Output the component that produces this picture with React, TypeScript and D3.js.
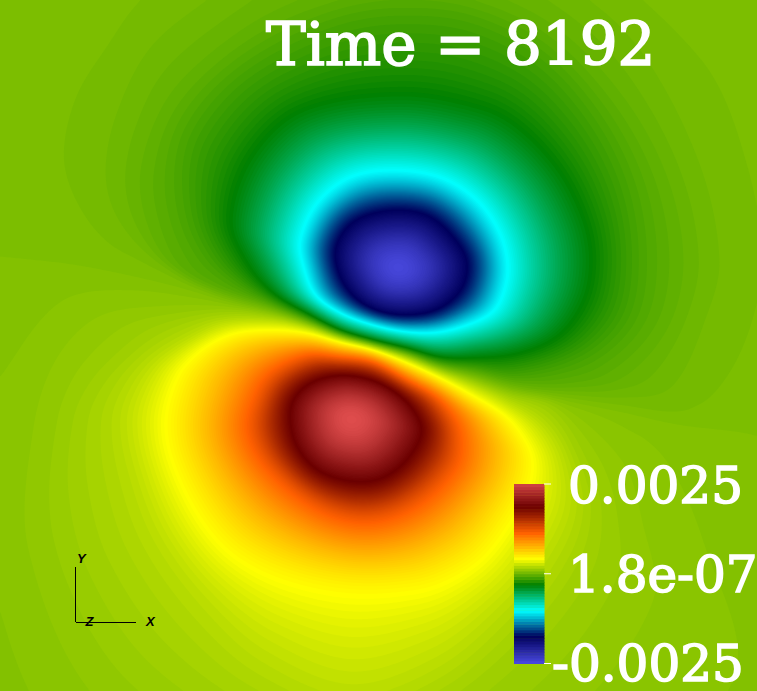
import React, { useMemo } from "react";
import * as d3 from "d3";

const WIDTH = 757;
const HEIGHT = 691;

const titleText = "Time = 8192";
const tickLabels = ["0.0025", "1.8e-07", "-0.0025"];
const tickPositions = [1, 0.5, 0];

// Rainbow-desaturated colour table
const colorStops = [0, 0.143, 0.285, 0.429, 0.571, 0.714, 0.857, 1];
const colorValues = ["#4747db", "#00005c", "#00ffff", "#008000", "#ffff00", "#ff6100", "#6b0000", "#e04d4d"];

// Field: extremum of each lobe, then iso-lines of the normalised value.
const negCenter = [398, 268];
const negLevels = [0.143, 0.286, 0.429, 0.47, 0.484, 0.492, 0.496, 0.5];
const negNavy = [[467,260],[463,287],[443,307],[417,315],[383,313],[357,300],[340,277],[335,250],[347,227],[367,215],[397,210],[427,215],[450,233]];
const negCyan = [[508,267],[503,295],[493,312],[473,323],[440,332],[407,332],[373,325],[340,313],[315,295],[303,265],[300,240],[317,203],[350,177],[393,170],[440,177],[477,200],[500,233]];
const negGreen = [[592,260],[585,300],[560,335],[520,353],[473,358],[440,357],[407,348],[373,340],[340,330],[307,313],[273,293],[247,263],[230,220],[250,157],[300,110],[400,93],[483,107],[520,127],[560,170],[585,220]];
const neg470 = [[641,260],[630,320],[587,360],[520,377],[473,369],[440,363.5],[407,352],[373,343],[340,333.5],[307,319],[273,304],[235,285],[205,260],[185,220],[180,170],[190,130],[225,85],[275,50],[340,22],[398,13],[470,20],[540,55],[595,115],[630,185]];
const neg484 = [[682,260],[667,327],[620,378],[570,388],[520,385],[473,373.6],[440,366],[407,353.4],[373,344],[340,334.6],[307,321],[273,308],[210,289],[170,265],[147,220],[142,170],[165,105],[205,60],[270,15],[340,-10],[398,-17],[470,-10],[550,25],[620,95],[665,175]];
const neg492 = [[718,260],[707,310],[670,387],[620,397],[570,394],[520,390],[473,375],[440,367],[407,354.2],[373,344.5],[340,335.3],[307,322],[273,310],[200,283],[150,255],[117,215],[107,173],[117,117],[150,50],[210,0],[290,-50],[398,-70],[500,-50],[600,10],[650,67],[700,170]];
const neg496 = [[757,273],[733,360],[687,410],[620,405.5],[553,396.5],[520,391.5],[473,376.5],[440,367.5],[407,354.6],[373,344.8],[340,335.7],[307,322.6],[273,311],[233,300],[167,273],[110,240],[80,200],[68,157],[80,100],[110,50],[147,0],[250,-70],[398,-105],[550,-60],[697,60],[745,170]];
const negZero = [[757,438],[900,470],[1000,300],[800,-200],[300,-300],[-200,-100],[-200,230],[0,253],[67,263],[133,277],[200,293],[233,303],[273,312],[307,323],[340,336],[373,345],[407,355],[440,368],[473,377],[507,388],[520,392],[553,398],[620,410],[687,425]];

const posCenter = [351, 418];
const posLevels = [0.857, 0.714, 0.571, 0.53, 0.516, 0.508, 0.504, 0.5];
const posDarkRed = [[422,433],[407,460],[385,477],[363,482],[335,478],[313,467],[296,445],[290,420],[293,400],[310,383],[340,375],[373,380],[400,395],[417,415]];
const posOrange = [[460,430],[457,467],[417,507],[367,523],[317,510],[267,470],[247,430],[257,390],[273,370],[307,355],[340,357],[373,362],[407,380],[440,400]];
const posYellow = [[506,416],[522,435],[533,458],[530,487],[510,525],[483,560],[450,582],[417,593],[350,597],[283,583],[233,557],[200,520],[172,463],[165,420],[177,377],[195,355],[217,340],[240,332],[273,330],[307,333],[340,342],[373,350],[407,363],[440,378],[473,396]];
const pos530 = [[507,400],[545,424],[566,460],[572,510],[550,560],[510,610],[440,670],[351,700],[260,665],[200,610],[150,540],[125,470],[118,418],[130,385],[150,360],[180,340],[220,322],[273,320],[307,327],[340,338.5],[373,347],[407,358],[440,372],[473,385]];
const pos516 = [[507,395],[553,410],[585,460],[600,510],[590,570],[530,650],[440,720],[351,745],[250,725],[150,660],[90,570],[70,490],[75,418],[90,385],[112,360],[150,330],[200,315],[240,312],[273,316],[307,325],[340,337],[373,346],[407,357],[440,370],[473,382]];
const pos508 = [[507,391],[553,401],[620,460],[640,520],[650,600],[560,720],[400,810],[250,790],[100,700],[30,550],[35,430],[57,360],[100,317],[167,307],[233,308],[273,315],[307,324],[340,336.5],[373,345.5],[407,356],[440,369],[473,379]];
const pos504 = [[507,389.5],[553,399.5],[620,425],[663,460],[700,540],[732,675],[600,800],[400,880],[200,850],[50,720],[-10,550],[-20,430],[17,360],[67,300],[133,290],[200,298],[240,306],[273,313],[307,323.5],[340,336.2],[373,345.2],[407,355.5],[440,368.5],[473,378]];
const posZero = [[850,450],[900,700],[600,1000],[100,1000],[-300,700],[-300,300],[-100,240],[0,253],[67,263],[133,277],[200,293],[233,303],[273,312],[307,323],[340,336],[373,345],[407,355],[440,368],[473,377],[507,388],[520,392],[553,398],[620,410],[687,425],[757,438]];

const negRings = [negNavy, negCyan, negGreen, neg470, neg484, neg492, neg496, negZero];
const posRings = [posDarkRed, posOrange, posYellow, pos530, pos516, pos508, pos504, posZero];

const colorOf = d3.scaleLinear<string>().domain(colorStops).range(colorValues).interpolate(d3.interpolateRgb).clamp(true);

const BINS = 1440;

// closed smooth curve through the traced iso-line -> radius lookup by angle around the extremum
function radiusTable(points: number[][], center: number[]): Float64Array {
  const n = points.length;
  const dense: number[][] = [];
  const tangents = points.map((p, i) => {
    const a = points[(i - 1 + n) % n], b = points[(i + 1) % n];
    const la = Math.hypot(p[0] - a[0], p[1] - a[1]);
    const lb = Math.hypot(b[0] - p[0], b[1] - p[1]);
    const sum = la + lb;
    return [(b[0] - a[0]) / sum, (b[1] - a[1]) / sum];
  });
  for (let i = 0; i < n; i++) {
    const p = points[i], q = points[(i + 1) % n];
    const mp = tangents[i], mq = tangents[(i + 1) % n];
    const h = Math.hypot(q[0] - p[0], q[1] - p[1]);
    const steps = Math.max(4, Math.ceil(h / 2));
    for (let s = 0; s < steps; s++) {
      const u = s / steps, u2 = u * u, u3 = u2 * u;
      const c0 = 2 * u3 - 3 * u2 + 1, c1 = (u3 - 2 * u2 + u) * h, c2 = -2 * u3 + 3 * u2, c3 = (u3 - u2) * h;
      dense.push([c0 * p[0] + c1 * mp[0] + c2 * q[0] + c3 * mq[0], c0 * p[1] + c1 * mp[1] + c2 * q[1] + c3 * mq[1]]);
    }
  }
  const table = new Float64Array(BINS).fill(-1);
  const polar = dense.map((p) => {
    const dx = p[0] - center[0], dy = p[1] - center[1];
    let th = Math.atan2(dy, dx);
    if (th < 0) th += 2 * Math.PI;
    return [(th / (2 * Math.PI)) * BINS, Math.hypot(dx, dy)];
  });
  for (let i = 0; i < polar.length; i++) {
    const a = polar[i], b = polar[(i + 1) % polar.length];
    let a0 = a[0], a1 = b[0];
    if (a1 - a0 > BINS / 2) a1 -= BINS;
    if (a0 - a1 > BINS / 2) a1 += BINS;
    const lo = Math.min(a0, a1), hi = Math.max(a0, a1);
    for (let k = Math.ceil(lo); k <= Math.floor(hi); k++) {
      const f = hi === lo ? 0 : (k - a0) / (a1 - a0);
      table[((k % BINS) + BINS) % BINS] = a[1] + (b[1] - a[1]) * f;
    }
  }
  for (let k = 0; k < BINS; k++) if (table[k] < 0) table[k] = table[(k - 1 + BINS) % BINS];
  return table;
}

type Lobe = { center: number[]; peak: number; levels: number[]; tables: Float64Array[] };

function lobeValue(x: number, y: number, lobe: Lobe): number {
  const dx = x - lobe.center[0], dy = y - lobe.center[1];
  const r = Math.hypot(dx, dy);
  let theta = Math.atan2(dy, dx);
  if (theta < 0) theta += 2 * Math.PI;
  const u = (theta / (2 * Math.PI)) * BINS;
  const i0 = Math.floor(u) % BINS, i1 = (i0 + 1) % BINS, fu = u - Math.floor(u);
  const rs = [0];
  const ts = [lobe.peak];
  for (let k = 0; k < lobe.tables.length; k++) {
    const t = lobe.tables[k];
    const v = Math.max(t[i0] + (t[i1] - t[i0]) * fu, rs[rs.length - 1] + 0.2);
    rs.push(v);
    ts.push(lobe.levels[k]);
  }
  const last = rs.length - 1;
  if (r >= rs[last]) return 0.5;
  let k = 0;
  while (k < last - 1 && r > rs[k + 1]) k++;
  const slope = (a: number) => (ts[a + 1] - ts[a]) / (rs[a + 1] - rs[a]);
  const tangent = (a: number) => {
    if (a === 0 || a === last) return 0;
    const s0 = slope(a - 1), s1 = slope(a);
    return s0 * s1 <= 0 ? 0 : (2 * s0 * s1) / (s0 + s1);
  };
  const h = rs[k + 1] - rs[k];
  const s = (r - rs[k]) / h;
  const s2 = s * s, s3 = s2 * s;
  return (2 * s3 - 3 * s2 + 1) * ts[k] + (s3 - 2 * s2 + s) * h * tangent(k) + (-2 * s3 + 3 * s2) * ts[k + 1] + (s3 - s2) * h * tangent(k + 1);
}

function Field() {
  const bands = useMemo(() => {
    const neg: Lobe = { center: negCenter, peak: 0, levels: negLevels, tables: negRings.map((r) => radiusTable(r, negCenter)) };
    const pos: Lobe = { center: posCenter, peak: 1, levels: posLevels, tables: posRings.map((r) => radiusTable(r, posCenter)) };
    const step = 2;
    const pad = 4;
    const nx = Math.ceil((WIDTH + 2 * pad) / step);
    const ny = Math.ceil((HEIGHT + 2 * pad) / step);
    const values = new Array(nx * ny);
    for (let j = 0; j < ny; j++) {
      for (let i = 0; i < nx; i++) {
        const x = (i + 0.5) * step - pad, y = (j + 0.5) * step - pad;
        values[j * nx + i] = lobeValue(x, y, neg) + lobeValue(x, y, pos) - 0.5;
      }
    }
    d3.blur2({ data: values, width: nx, height: ny }, 1.5);
    const thresholds = d3.range(0, 256).map((k) => k / 256);
    const polys = d3.contours().size([nx, ny]).thresholds(thresholds)(values);
    const path = d3.geoPath();
    return {
      pad,
      step,
      items: polys
        .filter((p) => p.coordinates.length > 0)
        .map((p) => ({ d: path(p) as string, fill: colorOf(p.value + 0.5 / 256) })),
    };
  }, []);
  return (
    <g transform={`translate(${-bands.pad},${-bands.pad}) scale(${bands.step})`}>
      {bands.items.map((b, i) => (
        <path key={i} d={b.d} fill={b.fill} />
      ))}
    </g>
  );
}

export default function App() {
  const barY = d3.scaleLinear().domain([0, 1]).range([663.5, 484]);
  const bandCount = 64;
  const bandEdges = d3.range(bandCount);
  const serif = "'DejaVu Serif', serif";
  const labelXs = [568, 568, 552];
  const labelYs = [503, 592, 681];
  return (
    <svg
      width={WIDTH}
      height={HEIGHT}
      viewBox={`0 0 ${WIDTH} ${HEIGHT}`}
      style={{ position: "absolute", left: 0, top: 0, display: "block" }}
    >
      <rect width={WIDTH} height={HEIGHT} fill="#8cc000" />
      <Field />
      <text x={266} y={65} fontFamily={serif} fontSize={59.5} fill="#fff" stroke="#fff" strokeWidth={1.7}>
        {titleText}
      </text>
      {bandEdges.map((k) => (
        <rect
          key={k}
          x={514}
          width={30.5}
          y={barY((k + 1) / bandCount)}
          height={barY(k / bandCount) - barY((k + 1) / bandCount) + 0.5}
          fill={colorOf((k / (bandCount - 1)) * 0.975)}
        />
      ))}
      {tickPositions.map((t, i) => (
        <g key={tickLabels[i]}>
          <line x1={544} x2={551} y1={barY(t)} y2={barY(t)} stroke="#fff" strokeWidth={1} />
          <text x={labelXs[i]} y={labelYs[i]} fontFamily={serif} fontSize={50} fill="#fff" stroke="#fff" strokeWidth={1.6}>
            {tickLabels[i]}
          </text>
        </g>
      ))}
      <line x1={75.5} x2={75.5} y1={567} y2={622} stroke="#000" strokeWidth={1} />
      <line x1={76} x2={136} y1={622.5} y2={622.5} stroke="#000" strokeWidth={1} />
      <g fontFamily="'Liberation Sans', sans-serif" fontSize={13} fontWeight="bold" fontStyle="italic" fill="#000">
        <text x={77} y={563}>Y</text>
        <text x={85.5} y={626}>Z</text>
        <text x={146} y={626}>X</text>
      </g>
    </svg>
  );
}
